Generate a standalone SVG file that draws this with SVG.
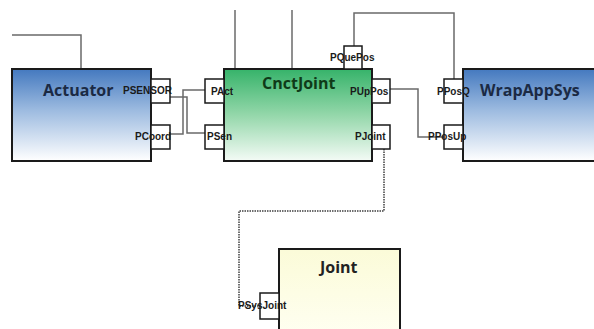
<svg xmlns="http://www.w3.org/2000/svg" width="594" height="329" viewBox="0 0 594 329">
<style>
.box{stroke:#1a1a1a;stroke-width:2}
.port{fill:#fff;stroke:#1a1a1a;stroke-width:1.5}
.pl{font-family:"Liberation Sans",Arial,sans-serif;font-weight:bold;font-size:10px;fill:#1a1a1a}
.title{font-family:"Open Sans","Liberation Sans",sans-serif;font-weight:bold;font-size:16px}
.wire{fill:none;stroke:#6a6a6a;stroke-width:1.5}
.dot{fill:none;stroke:#6e6e6e;stroke-width:2;stroke-dasharray:1.5,1}
</style>
<defs>
<linearGradient id="gBlue" x1="0" y1="0" x2="0" y2="1">
<stop offset="0" stop-color="#4479bf"/><stop offset="0.45" stop-color="#9dbbe0"/><stop offset="1" stop-color="#ffffff"/>
</linearGradient>
<linearGradient id="gGreen" x1="0" y1="0" x2="0" y2="1">
<stop offset="0" stop-color="#36b36a"/><stop offset="0.5" stop-color="#94d7aa"/><stop offset="1" stop-color="#f4fbf6"/>
</linearGradient>
<linearGradient id="gYellow" x1="0" y1="0" x2="0" y2="1">
<stop offset="0" stop-color="#fbfbd8"/><stop offset="1" stop-color="#fffff2"/>
</linearGradient>
</defs>
<rect width="594" height="329" fill="#ffffff"/>
<g id="connectors">
<path class="wire" d="M12 35 H81 V69"/>
<path class="wire" d="M235 10 V69"/>
<path class="wire" d="M292 10 V69"/>
<path class="wire" d="M170 97 H187 V133 H205"/>
<path class="wire" d="M170 134 H183 V90 H205"/>
<path class="wire" d="M354 46 V13 H454 V79"/>
<path class="wire" d="M390 89 H418 V137 H444"/>
<path class="dot" d="M384 149 V211 H239 V306 H260"/>
</g>
<g id="Actuator">
<rect class="box" x="12" y="69" width="139" height="92" fill="url(#gBlue)"/>
<text class="title" x="43" y="96" fill="#1b2a44">Actuator</text>
<rect class="port" x="151" y="79" width="19" height="24"/>
<text class="pl" x="123" y="94">PSENSOR</text>
<rect class="port" x="151" y="125" width="19" height="24"/>
<text class="pl" x="135" y="140">PCoord</text>
</g>
<g id="CnctJoint">
<rect class="box" x="224" y="69" width="148" height="92" fill="url(#gGreen)"/>
<text class="title" x="262" y="89" fill="#0f3a18" font-size="15">CnctJoint</text>
<rect class="port" x="205" y="79" width="19" height="24"/>
<text class="pl" x="211" y="95">PAct</text>
<rect class="port" x="205" y="125" width="19" height="24"/>
<text class="pl" x="207" y="140">PSen</text>
<rect class="port" x="344" y="46" width="18" height="23"/>
<text class="pl" x="330" y="61">PQuePos</text>
<rect class="port" x="372" y="79" width="18" height="24"/>
<text class="pl" x="350" y="95">PUpPos</text>
<rect class="port" x="372" y="125" width="18" height="24"/>
<text class="pl" x="355" y="140">PJoint</text>
</g>
<g id="WrapAppSys">
<rect class="box" x="463" y="69" width="140" height="92" fill="url(#gBlue)"/>
<text class="title" x="480" y="96" fill="#1b2a44">WrapAppSys</text>
<rect class="port" x="444" y="79" width="19" height="24"/>
<text class="pl" x="437" y="95">PPosQ</text>
<rect class="port" x="444" y="125" width="19" height="24"/>
<text class="pl" x="428" y="140">PPosUp</text>
</g>
<g id="Joint">
<rect class="box" x="279" y="249" width="121" height="90" fill="url(#gYellow)"/>
<text class="title" x="320" y="273" fill="#222">Joint</text>
<rect class="port" x="260" y="293" width="19" height="26"/>
<text class="pl" x="238" y="309">PSysJoint</text>
</g>
</svg>
